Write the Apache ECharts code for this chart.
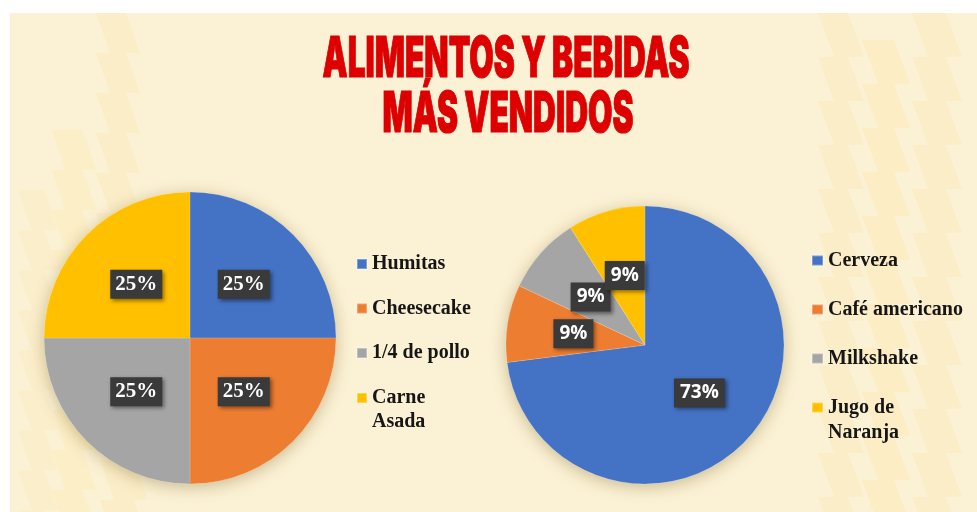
<!DOCTYPE html>
<html>
<head>
<meta charset="utf-8">
<script src="https://cdn.jsdelivr.net/npm/echarts@6/dist/echarts.min.js"></script>
<style>
  html, body { margin: 0; padding: 0; background: #ffffff; }
  #chart { width: 977px; height: 512px; }
</style>
</head>
<body>
<div id="chart"></div>
<script>
// Sales share of food and drinks
const titleLines = ['ALIMENTOS Y BEBIDAS', 'MÁS VENDIDOS'];
const foodNames = ['Humitas', 'Cheesecake', '1/4 de pollo', 'Carne Asada'];
const foodValues = [25, 25, 25, 25];
const drinkNames = ['Cerveza', 'Café americano', 'Milkshake', 'Jugo de Naranja'];
const drinkValues = [73, 9, 9, 9];
const sliceColors = ['#4472C4', '#ED7D31', '#A5A5A5', '#FFC000'];

const cream = '#FBF1D4';
const titleRed = '#DE0000';

// horizontal squeeze so the heavy title reads as a condensed face
const titleFont = '900 56px Inter, "Liberation Sans", sans-serif';
const ctx = document.createElement('canvas').getContext('2d');
ctx.font = titleFont;
const titleScale = 367 / ctx.measureText(titleLines[0]).width;

// faint sawtooth stripes along both sides of the panel
function stripe(x0, y0, y1, w, tooth, shift) {
  const left = [];
  for (let y = y0; y < y1; y += tooth) {
    left.push([x0, y]);
    left.push([x0 + shift, y + tooth]);
    left.push([x0, y + tooth]);
  }
  const right = left.map(p => [p[0] + w, p[1]]).reverse();
  return left.concat(right);
}
const stripeDefs = [
  [18, 190, 512, 26, 40, 14, 0.16],
  [52, 130, 512, 30, 40, 14, 0.22],
  [96, 13, 300, 30, 40, 14, 0.2],
  [100, 420, 512, 34, 40, 14, 0.2],
  [818, 13, 512, 30, 44, 16, 0.2],
  [862, 40, 512, 32, 44, 16, 0.24],
  [912, 13, 512, 34, 44, 16, 0.2]
];
const decor = stripeDefs.map(d => ({
  type: 'polygon',
  z: -9,
  silent: true,
  shape: { points: stripe(d[0], d[1], d[2], d[3], d[4], d[5]) },
  style: { fill: '#FDE396', opacity: d[6] }
}));

const legendText = {
  fontFamily: '"Liberation Serif", "Times New Roman", serif',
  fontWeight: 'bold',
  fontSize: 20,
  lineHeight: 24,
  color: '#161616'
};
// two-line entry; the leading blank line keeps the marker level with the first line
const wrapLast = n => '\n' + n.replace(/ (\S+)$/, '\n$1');

function pieLabel(family, size, pad) {
  return {
    show: true,
    position: 'inside',
    formatter: '{d}%',
    color: '#ffffff',
    fontFamily: family,
    fontWeight: 'bold',
    fontSize: size,
    lineHeight: size + 2,
    backgroundColor: '#3A3A3A',
    padding: pad,
    shadowColor: 'rgba(0,0,0,0.45)',
    shadowBlur: 4,
    shadowOffsetX: 2,
    shadowOffsetY: 2
  };
}

function shadowPie(center, radius) {
  return {
    type: 'pie',
    silent: true,
    z: 1,
    center: center,
    radius: radius,
    label: { show: false },
    labelLine: { show: false },
    itemStyle: {
      color: cream,
      shadowColor: 'rgba(110,85,20,0.35)',
      shadowBlur: 16,
      shadowOffsetY: 3
    },
    data: [{ value: 1, name: '' }]
  };
}

const chart = echarts.init(document.getElementById('chart'), null, { renderer: 'canvas' });
chart.setOption({
  backgroundColor: '#ffffff',
  animation: false,
  color: sliceColors,
  graphic: [
    { type: 'rect', z: -10, silent: true, shape: { x: 10, y: 13, width: 967, height: 499 }, style: { fill: cream } }
  ].concat(decor).concat([
    {
      type: 'text', z: 10, x: 506, y: 60, scaleX: titleScale,
      style: { text: titleLines[0], font: titleFont, fill: titleRed, stroke: titleRed, lineWidth: 1.2, align: 'center', verticalAlign: 'middle' }
    },
    {
      type: 'text', z: 10, x: 508, y: 115, scaleX: titleScale,
      style: { text: titleLines[1], font: titleFont, fill: titleRed, stroke: titleRed, lineWidth: 1.2, align: 'center', verticalAlign: 'middle' }
    }
  ]),
  legend: [
    {
      orient: 'vertical', left: 356, top: 252, padding: 0, itemGap: 20.5,
      itemWidth: 10, itemHeight: 10, icon: 'rect', selectedMode: false,
      data: foodNames.slice(0, 3), textStyle: legendText
    },
    {
      orient: 'vertical', left: 356, top: 362, padding: 0,
      itemWidth: 10, itemHeight: 10, icon: 'rect', selectedMode: false,
      data: foodNames.slice(3), formatter: wrapLast, textStyle: legendText
    },
    {
      orient: 'vertical', left: 811, top: 248.5, padding: 0, itemGap: 25,
      itemWidth: 11, itemHeight: 10, icon: 'rect', selectedMode: false,
      data: drinkNames.slice(0, 3), textStyle: legendText
    },
    {
      orient: 'vertical', left: 811, top: 370, padding: 0,
      itemWidth: 11, itemHeight: 10, icon: 'rect', selectedMode: false,
      data: drinkNames.slice(3), formatter: wrapLast,
      textStyle: Object.assign({}, legendText, { lineHeight: 25 })
    }
  ],
  series: [
    shadowPie([190, 338], 146),
    {
      type: 'pie',
      name: 'Alimentos',
      z: 3,
      center: [190, 338],
      radius: 146,
      startAngle: 90,
      clockwise: true,
      percentPrecision: 0,
      labelLayout: { hideOverlap: false },
      itemStyle: { borderColor: 'rgba(255,255,255,0.3)', borderWidth: 0.5 },
      label: pieLabel('"Liberation Serif", "Times New Roman", serif', 21, [3, 5, 3, 5]),
      labelLine: { show: false },
      emphasis: { disabled: true },
      data: foodNames.map((n, i) => ({ name: n, value: foodValues[i] }))
    },
    shadowPie([645, 345], 139),
    {
      type: 'pie',
      name: 'Bebidas',
      z: 3,
      center: [645, 345],
      radius: 139,
      startAngle: 90,
      clockwise: true,
      percentPrecision: 0,
      avoidLabelOverlap: false,
      labelLayout: { hideOverlap: false },
      itemStyle: { borderColor: 'rgba(255,255,255,0.3)', borderWidth: 0.5 },
      label: pieLabel('"Open Sans", "Noto Sans", sans-serif', 19, [4, 6, 4, 6]),
      labelLine: { show: false },
      emphasis: { disabled: true },
      data: drinkNames.map((n, i) => ({ name: n, value: drinkValues[i] }))
    }
  ]
});
</script>
</body>
</html>
